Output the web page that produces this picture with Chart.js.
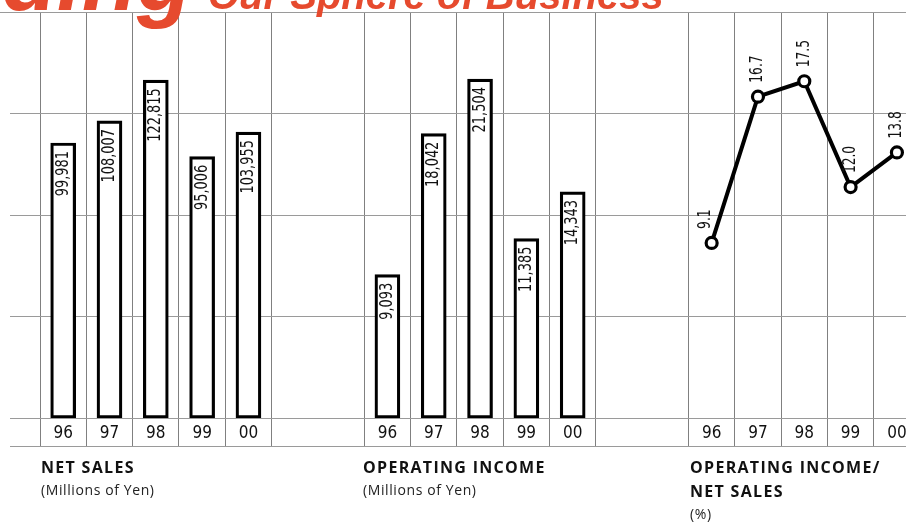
<!DOCTYPE html>
<html>
<head>
<meta charset="utf-8">
<script src="https://cdn.jsdelivr.net/npm/chart.js@4.4.1/dist/chart.umd.min.js"></script>
<style>
  html, body { margin: 0; padding: 0; background: #fff; }
  #wrap { position: relative; width: 906px; height: 522px; overflow: hidden; background: #fff; }
  #chart { position: absolute; left: 0; top: 0; }
  .head { position: absolute; font-family: 'Liberation Sans', Arial, sans-serif; font-weight: bold;
          font-style: italic; color: #e64a2e; white-space: nowrap; line-height: 1; }
  .head.big { font-size: 90px; right: 714px; top: -66px; }
  .head.small { font-size: 40px; left: 208px; top: -25px; }
  .cap { position: absolute; top: 455px; font-family: 'Open Sans', sans-serif; font-weight: bold;
         font-size: 16px; line-height: 24px; letter-spacing: 1.3px; color: #111; white-space: nowrap; }
  .unit { position: absolute; font-family: 'Open Sans', sans-serif; font-size: 14px; line-height: 14px;
          letter-spacing: 0.6px; color: #222; white-space: nowrap; }
</style>
</head>
<body>
<div id="wrap">
  <canvas id="chart" width="906" height="522"></canvas>
  <div class="head big">Expanding</div>
  <div class="head small">Our Sphere of Business</div>
  <div class="cap" style="left:41px">NET SALES</div>
  <div class="unit" style="left:41px; top:483px">(Millions of Yen)</div>
  <div class="cap" style="left:363px">OPERATING INCOME</div>
  <div class="unit" style="left:363px; top:483px">(Millions of Yen)</div>
  <div class="cap" style="left:690px">OPERATING INCOME/<br>NET SALES</div>
  <div class="unit" style="left:690px; top:507px">(%)</div>
</div>
<script>
// Fiscal years and the three series
const years = ['96', '97', '98', '99', '00'];
const netSales = [99981, 108007, 122815, 95006, 103955];          // millions of yen
const operatingIncome = [9093, 18042, 21504, 11385, 14343];       // millions of yen
const incomeRatio = [9.1, 16.7, 17.5, 12.0, 13.8];                // %

// Top of each value axis (the top rule of the grid)
const netSalesMax = 147600;
const incomeMax = 25760;
const ratioMax = 21.1;

// Three panels of five year-columns, two empty columns between panels
const gapSlots = 2;
const panelStride = years.length + gapSlots;
const slotLabels = [];
for (let p = 0; p < 3; p++) {
  slotLabels.push(...years);
  if (p < 2) for (let g = 0; g < gapSlots; g++) slotLabels.push('');
}
const slotCenter = (panel, i) => panel * panelStride + i + 0.5;
const toPoints = (panel, values) => values.map((v, i) => ({ x: slotCenter(panel, i), y: v }));

const textFont = "'DejaVu Sans Condensed', 'DejaVu Sans', sans-serif";
const columnColor = '#808080';
const rowColor = '#9a9a9a';
const rowHeight = 28;

// vertical rule hidden between the two empty gap columns
const columnRuleColor = (ctx) => {
  const i = ctx.index;
  if (i === undefined) return columnColor;
  return (slotLabels[i - 1] === '' && slotLabels[i] === '') ? 'rgba(0,0,0,0)' : columnColor;
};

// rule closing the year row, and the top rule running to the page edge
const rowRule = {
  id: 'rowRule',
  afterDraw(chart) {
    const { ctx, chartArea, scales } = chart;
    const yBottom = Math.round(scales.x.bottom) + 0.5;
    const yTop = Math.round(chartArea.top) + 0.5;
    ctx.save();
    ctx.strokeStyle = rowColor;
    ctx.lineWidth = 1;
    ctx.beginPath();
    ctx.moveTo(chartArea.left, yBottom);
    ctx.lineTo(chartArea.right, yBottom);
    ctx.moveTo(0, yTop);
    ctx.lineTo(chartArea.left, yTop);
    ctx.stroke();
    ctx.restore();
  }
};

// rotated, condensed value labels: inside the bar tops, above the line points
const valueLabels = {
  id: 'valueLabels',
  afterDatasetsDraw(chart) {
    const { ctx } = chart;
    ctx.save();
    ctx.fillStyle = '#111';
    ctx.textBaseline = 'middle';
    chart.data.datasets.forEach((ds, di) => {
      const meta = chart.getDatasetMeta(di);
      const isBar = meta.type === 'bar';
      meta.data.forEach((el, i) => {
        const v = ds.data[i].y;
        const text = isBar ? v.toLocaleString('en-US') : v.toFixed(1);
        // the first ratio label steps aside from the rising segment
        const dx = (!isBar && i === 0) ? -6 : 0;
        ctx.save();
        ctx.font = (isBar ? '18px ' : '17px ') + textFont;
        ctx.translate(el.x + dx, isBar ? el.y + 8 : el.y - 14);
        ctx.rotate(-Math.PI / 2);
        ctx.scale(0.8, 1);
        ctx.textAlign = isBar ? 'right' : 'left';
        ctx.fillText(text, 0, 0);
        ctx.restore();
      });
    });
    ctx.restore();
  }
};

const barStyle = {
  type: 'bar',
  backgroundColor: '#ffffff',
  borderColor: '#000000',
  borderWidth: 3.2,
  borderSkipped: false,
  barThickness: 25,
  grouped: false
};

new Chart(document.getElementById('chart'), {
  type: 'bar',
  data: {
    datasets: [
      { ...barStyle, label: 'Net sales', yAxisID: 'yNetSales', data: toPoints(0, netSales) },
      { ...barStyle, label: 'Operating income', yAxisID: 'yIncome', data: toPoints(1, operatingIncome) },
      {
        type: 'line',
        label: 'Operating income / net sales',
        yAxisID: 'yRatio',
        data: toPoints(2, incomeRatio),
        borderColor: '#000000',
        borderWidth: 4,
        tension: 0,
        pointRadius: 5.5,
        pointBorderWidth: 3.2,
        pointBackgroundColor: '#ffffff',
        pointBorderColor: '#000000'
      }
    ]
  },
  options: {
    responsive: false,
    animation: false,
    devicePixelRatio: 1,
    layout: { padding: { left: 10, top: 12, right: 0, bottom: 76 }, autoPadding: false },
    plugins: { legend: { display: false }, tooltip: { enabled: false } },
    scales: {
      x: {
        type: 'linear',
        position: 'bottom',
        offset: false,
        min: -0.648,
        max: 18.696,
        afterBuildTicks: (scale) => { scale.ticks = slotLabels.map((_, k) => ({ value: k + 0.5 })); },
        afterFit: (scale) => { scale.height = rowHeight; },
        grid: {
          offset: true,
          color: columnRuleColor,
          tickColor: columnRuleColor,
          lineWidth: 1,
          drawTicks: true,
          tickLength: rowHeight
        },
        border: { display: false },
        ticks: {
          autoSkip: false,
          maxRotation: 0,
          minRotation: 0,
          padding: -22.5,
          color: '#111',
          font: { family: textFont, size: 17 },
          callback: (value, index) => slotLabels[index]
        }
      },
      yGrid: {
        type: 'linear',
        position: 'left',
        min: 0,
        max: 4,
        afterFit: (scale) => { scale.width = 0; },
        ticks: { display: false, stepSize: 1 },
        grid: { color: rowColor, lineWidth: 1, drawTicks: false },
        border: { display: false }
      },
      yNetSales: { type: 'linear', display: false, min: 0, max: netSalesMax },
      yIncome: { type: 'linear', display: false, min: 0, max: incomeMax },
      yRatio: { type: 'linear', display: false, min: 0, max: ratioMax }
    }
  },
  plugins: [rowRule, valueLabels]
});
</script>
</body>
</html>
